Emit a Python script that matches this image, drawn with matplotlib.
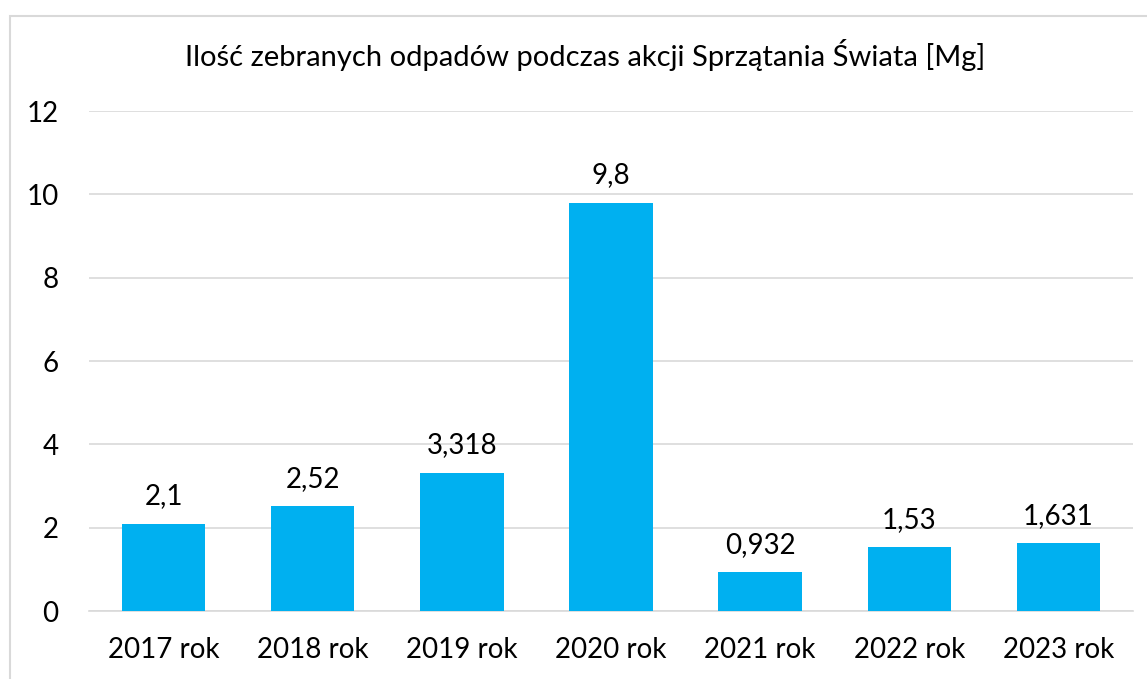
import matplotlib
matplotlib.use('Agg')
import matplotlib.pyplot as plt
from matplotlib.patches import Rectangle

plt.rcParams['font.family'] = ['Lato', 'DejaVu Sans']

years = ['2017 rok', '2018 rok', '2019 rok', '2020 rok', '2021 rok', '2022 rok', '2023 rok']
values = [2.1, 2.52, 3.318, 9.8, 0.932, 1.53, 1.631]
labels = ['2,1', '2,52', '3,318', '9,8', '0,932', '1,53', '1,631']
yticks = [0, 2, 4, 6, 8, 10, 12]

W, H = 1147, 679
fig = plt.figure(figsize=(W / 100, H / 100), dpi=100)
ax = fig.add_axes([89 / W, (H - 611) / H, (1133 - 89) / W, 500 / H])

# outer chart border (cut off at right/bottom like the screenshot)
fig.patches.append(Rectangle((10 / W, -0.1), 1.2, (H - 16) / H + 0.1,
                             transform=fig.transFigure, fill=False,
                             edgecolor='#D9D9D9', linewidth=1.5))

x = range(len(years))
bars = ax.bar(x, values, width=0.56, color='#00B0F0', zorder=3)
for b, lab in zip(bars, labels):
    ax.annotate(lab, (b.get_x() + b.get_width() / 2, b.get_height()),
                xytext=(0, 14), textcoords='offset points',
                ha='center', va='baseline', fontsize=20, color='black')

ax.set_xlim(-0.5, len(years) - 0.5)
ax.set_ylim(0, 12)
ax.set_yticks(yticks)
ax.set_yticklabels([str(t) for t in yticks])
ax.set_xticks(list(x))
ax.set_xticklabels(years)
ax.tick_params(axis='both', length=0, labelsize=20)
ax.tick_params(axis='y', pad=22)
ax.tick_params(axis='x', pad=19)
ax.grid(axis='y', color='#D9D9D9', linewidth=1.2, zorder=0)
for s in ['left', 'right', 'top']:
    ax.spines[s].set_visible(False)
ax.spines['bottom'].set_color('#D9D9D9')
ax.spines['bottom'].set_linewidth(1.2)

fig.text(585 / W, (H - 66) / H, 'Ilość zebranych odpadów podczas akcji Sprzątania Świata [Mg]',
         ha='center', va='baseline', fontsize=21)

fig.savefig('out.png', dpi=100)
